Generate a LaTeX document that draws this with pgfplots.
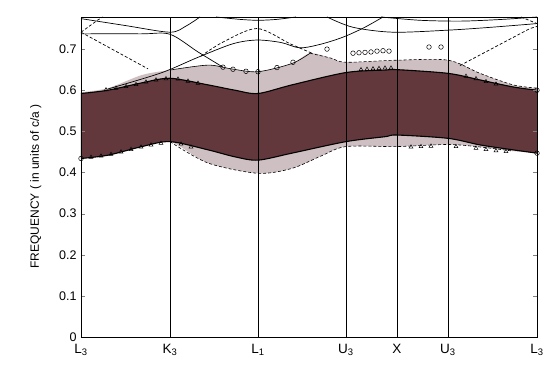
\documentclass[border=0pt]{standalone}
\usepackage{pgfplots}
\pgfplotsset{compat=1.18}
\usepgfplotslibrary{fillbetween}
\usepackage{fontspec}
\setmainfont{Liberation Sans}
\definecolor{darkband}{RGB}{98,56,60}
\definecolor{lightband}{RGB}{206,192,194}
\begin{document}
\begin{tikzpicture}
\begin{axis}[
  scale only axis, width=456pt, height=320pt,
  xmin=0, xmax=456, ymin=0, ymax=0.778,
  axis on top,
  axis line style={line width=0.9pt},
  xtick={0,89,177,265,316,367,456},
  xticklabels={L\textsubscript{3},K\textsubscript{3},L\textsubscript{1},U\textsubscript{3},X,U\textsubscript{3},L\textsubscript{3}},
  xmajorgrids, major grid style={black, line width=0.8pt},
  major x tick style={draw=none},
  x tick label style={font=\fontsize{13.5}{15}\selectfont, yshift=-4pt},
  ytick={0,0.1,0.2,0.3,0.4,0.5,0.6,0.7},
  yticklabels={0,0.1,0.2,0.3,0.4,0.5,0.6,0.7},
  ytick pos=both, tick align=inside, major tick length=4pt,
  y tick label style={font=\fontsize{12.5}{14}\selectfont, xshift=-1pt},
  ylabel={FREQUENCY ( in units of c/a )},
  every axis y label/.style={at={(axis description cs:-0.099,0.47)}, rotate=90, anchor=center, font=\fontsize{12}{14}\selectfont},
]
% light grey region (partial gap)
\addplot[name path=lu, draw=none, smooth] coordinates {
 (0,0.595) (27,0.605) (61,0.637) (89,0.649) (127,0.661) (150,0.652) (177,0.645)
 (211,0.665) (229,0.690) (250,0.678) (265,0.668) (316,0.673) (367,0.673)
 (399,0.641) (432,0.613) (456,0.605)};
\addplot[name path=ll, draw=none, smooth] coordinates {
 (0,0.434) (27,0.442) (61,0.463) (89,0.475) (127,0.423) (177,0.398) (211,0.410)
 (240,0.440) (265,0.463) (316,0.463) (367,0.468) (399,0.462) (432,0.452) (456,0.447)};
\addplot[lightband] fill between[of=lu and ll];
% dark region (complete gap)
\addplot[name path=du, black, line width=1.1pt, smooth] coordinates {
 (0,0.592) (27,0.600) (61,0.618) (89,0.629) (127,0.613) (154,0.600) (177,0.592)
 (211,0.613) (265,0.643) (304,0.649) (316,0.650) (367,0.641) (399,0.625)
 (432,0.608) (456,0.600)};
\addplot[name path=dl, black, line width=1.1pt, smooth] coordinates {
 (0,0.434) (27,0.442) (61,0.463) (89,0.475) (127,0.455) (154,0.438) (177,0.430)
 (211,0.447) (265,0.475) (304,0.487) (316,0.491) (367,0.483) (399,0.467)
 (432,0.455) (456,0.447)};
\addplot[darkband] fill between[of=du and dl];
% light band edges
\addplot[black, line width=0.6pt, smooth] coordinates {
 (89,0.649) (127,0.661) (150,0.652) (177,0.645) (211,0.665) (229,0.690)};
\addplot[black, line width=0.6pt, densely dashed, smooth] coordinates {
 (229,0.690) (250,0.678) (265,0.668) (316,0.673) (367,0.673) (399,0.641) (432,0.613) (456,0.605)};
\addplot[black, line width=0.6pt, densely dashed, smooth] coordinates {
 (89,0.475) (127,0.423) (177,0.398) (211,0.410) (240,0.440) (265,0.463) (316,0.463) (367,0.468) (399,0.462) (432,0.452)};
% upper bands (solid)
\addplot[black, line width=0.7pt, smooth] coordinates {(0,0.774) (45,0.757) (89,0.741) (105,0.756) (119,0.778)};
\addplot[black, line width=0.7pt, smooth] coordinates {(0,0.737) (60,0.737) (89,0.736) (117,0.693) (142,0.656)};
\addplot[black, line width=0.7pt, smooth] coordinates {(27,0.603) (80,0.642) (117,0.680) (152,0.713) (176,0.722) (200,0.716) (219,0.703) (240,0.712) (262,0.729) (283,0.752) (302,0.778)};
\addplot[black, line width=0.7pt, smooth] coordinates {(246,0.778) (272,0.753) (312,0.741) (367,0.746) (410,0.753) (456,0.762)};
\addplot[black, line width=0.7pt, smooth] coordinates {(300,0.778) (339,0.770) (380,0.768) (420,0.772) (456,0.778)};
\addplot[black, line width=0.7pt, smooth] coordinates {(135,0.778) (160,0.772) (177,0.770) (195,0.772) (215,0.778)};
% dashed bands
\addplot[black, line width=0.7pt, densely dashed] coordinates {(0,0.741) (67,0.652)};
\addplot[black, line width=0.7pt, densely dashed] coordinates {(0,0.741) (17,0.771) (22,0.778)};
\addplot[black, line width=0.7pt, densely dashed, smooth] coordinates {(120,0.683) (142,0.717) (176,0.750) (209,0.713) (231,0.690)};
\addplot[black, line width=0.7pt, densely dashed] coordinates {(379,0.660) (449,0.750) (456,0.755)};
\addplot[black, line width=0.7pt, densely dashed] coordinates {(440,0.778) (456,0.762)};
% computed points (circles)
\addplot[only marks, mark=o, mark size=2.3pt, black, line width=0.5pt] coordinates {
 (142,0.656) (152,0.651) (165,0.646) (177,0.645) (196,0.655) (212,0.668)
 (246,0.700) (272,0.690) (278,0.691) (284,0.692) (290,0.693) (296,0.695) (302,0.696) (308,0.695)
 (348,0.705) (360,0.705) (0,0.434) (456,0.447) (456,0.600)};
% computed points (triangles)
\addplot[only marks, mark=triangle, mark size=2.2pt, black, line width=0.5pt] coordinates {
 (25,0.601) (35,0.605) (45,0.609) (55,0.614) (65,0.620) (75,0.625) (85,0.628) (97,0.627) (107,0.622) (117,0.617)
 (280,0.650) (286,0.651) (292,0.652) (298,0.653) (304,0.654) (310,0.654)
 (385,0.634) (395,0.628) (405,0.621) (415,0.615)
 (10,0.437) (20,0.440) (30,0.444) (40,0.450) (50,0.456) (60,0.462) (70,0.467) (80,0.471) (100,0.469) (110,0.462)
 (330,0.462) (340,0.463) (350,0.464) (375,0.463) (395,0.459) (405,0.456) (415,0.453) (425,0.451)};
\end{axis}
\pgfresetboundingbox
\path (current axis.south west) ++(-81pt,-28pt) coordinate (bl);
\path (current axis.north east) ++(15pt,17pt) coordinate (tr);
\path[use as bounding box] (bl) rectangle (tr);
\end{tikzpicture}
\end{document}
